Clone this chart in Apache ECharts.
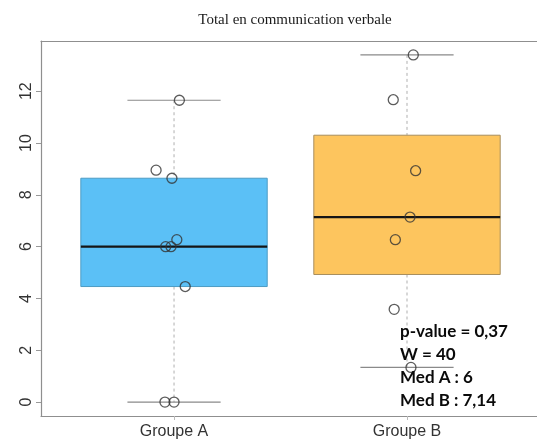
<!DOCTYPE html>
<html>
<head>
<meta charset="utf-8">
<script src="https://cdn.jsdelivr.net/npm/echarts@6/dist/echarts.min.js"></script>
<style>
  html, body { margin: 0; padding: 0; background: #fff; }
  #chart { width: 537px; height: 441px; }
</style>
</head>
<body>
<div id="chart"></div>
<script>
// Groups and their observations
const groups = ['Groupe A', 'Groupe B'];
const valuesA = [0, 0, 4.46, 6, 6, 6.27, 8.64, 8.95, 11.65];
const valuesB = [1.34, 3.58, 6.27, 7.14, 8.93, 11.67, 13.4];
// Horizontal jitter of each point (category units)
const jitterA = [-0.039, 0.0, 0.048, -0.036, -0.013, 0.012, -0.009, -0.077, 0.023];
const jitterB = [0.017, -0.055, -0.050, 0.013, 0.037, -0.059, 0.027];
const yTicks = [0, 2, 4, 6, 8, 10, 12];
const title = 'Total en communication verbale';
const statLines = ['p-value = 0,37', 'W = 40', 'Med A : 6', 'Med B : 7,14'];

const fills = ['#5BC0F6', '#FDC55E'];
const edges = ['#4d9cc4', '#a88e5e'];

// Tukey five-number summary (same hinges as R's boxplot)
function fivenum(v) {
  const x = v.slice().sort((a, b) => a - b);
  const n = x.length;
  const n4 = Math.floor((n + 3) / 2) / 2;
  const d = [1, n4, (n + 1) / 2, n + 1 - n4, n];
  return d.map(k => 0.5 * (x[Math.floor(k) - 1] + x[Math.ceil(k) - 1]));
}

const allValues = [valuesA, valuesB];
const boxData = allValues.map((v, i) => {
  const s = fivenum(v);
  const iqr = s[3] - s[1];
  const lo = Math.min(...v.filter(t => t >= s[1] - 1.5 * iqr));
  const hi = Math.max(...v.filter(t => t <= s[3] + 1.5 * iqr));
  return [i + 1, lo, s[1], s[2], s[3], hi];
});

const pointsA = valuesA.map((y, i) => [1 + jitterA[i], y]);
const pointsB = valuesB.map((y, i) => [2 + jitterB[i], y]);

const allY = valuesA.concat(valuesB);
const yLo = Math.min(...allY), yHi = Math.max(...allY);
const ext = (yHi - yLo) * 0.04;

const frame = '#8f8f8f';
const chart = echarts.init(document.getElementById('chart'), null, { renderer: 'canvas' });

chart.setOption({
  animation: false,
  backgroundColor: '#ffffff',
  grid: { left: 41, top: 41, right: 0, bottom: 25 },
  xAxis: [{
    type: 'value',
    min: 0.429,
    max: 2.558,
    axisLine: { show: true, onZero: false, lineStyle: { color: frame, width: 1.2 } },
    axisTick: { show: true, customValues: [1, 2], length: 4, lineStyle: { color: '#bbb' } },
    axisLabel: {
      customValues: [1, 2],
      formatter: v => groups[Math.round(v) - 1] || '',
      color: '#333', fontFamily: 'Liberation Sans', fontSize: 16, margin: 8
    },
    splitLine: { show: false }
  }, {
    type: 'value', position: 'top',
    min: 0.429, max: 2.558,
    axisLine: { show: true, onZero: false, lineStyle: { color: frame, width: 1.2 } },
    axisTick: { show: false }, axisLabel: { show: false }, splitLine: { show: false }
  }],
  yAxis: {
    type: 'value',
    min: yLo - ext,
    max: yHi + ext,
    axisLine: { show: true, onZero: false, lineStyle: { color: frame, width: 1.2 } },
    axisTick: { show: true, customValues: yTicks, length: 5, lineStyle: { color: '#999' } },
    axisLabel: {
      customValues: yTicks,
      rotate: 90,
      margin: 6,
      color: '#333', fontFamily: 'Liberation Sans', fontSize: 16
    },
    splitLine: { show: false }
  },
  graphic: [{
    type: 'text', x: 295, y: 20,
    style: {
      text: title, align: 'center', verticalAlign: 'middle',
      font: '15px "Liberation Serif"', fill: '#1a1a1a'
    }
  }, {
    type: 'text', x: 400, y: 320.5, z: 100,
    style: {
      text: statLines.join('\n'), align: 'left', verticalAlign: 'top',
      font: 'bold 17px Lato', lineHeight: 23, fill: '#0a0a0a'
    }
  }],
  series: [{
    type: 'custom',
    data: boxData,
    encode: { x: 0, y: [1, 2, 3, 4, 5] },
    z: 2,
    renderItem: function (params, api) {
      const i = params.dataIndex;
      const x = api.value(0);
      const lo = api.value(1), q1 = api.value(2), med = api.value(3), q3 = api.value(4), hi = api.value(5);
      const half = 0.4, capHalf = 0.2;
      const pL = api.coord([x - half, q3]);
      const pR = api.coord([x + half, q1]);
      const c = api.coord([x, med]);
      const cLo = api.coord([x, lo]);
      const cHi = api.coord([x, hi]);
      const cq1 = api.coord([x, q1]);
      const cq3 = api.coord([x, q3]);
      const capL = api.coord([x - capHalf, 0])[0];
      const capR = api.coord([x + capHalf, 0])[0];
      const whisk = { stroke: '#b0b0b0', lineWidth: 1, lineDash: [3, 3] };
      const cap = { stroke: '#8a8a8a', lineWidth: 1.2 };
      return {
        type: 'group',
        children: [
          { type: 'line', shape: { x1: c[0], y1: cHi[1], x2: c[0], y2: cq3[1] }, style: whisk },
          { type: 'line', shape: { x1: c[0], y1: cq1[1], x2: c[0], y2: cLo[1] }, style: whisk },
          { type: 'line', shape: { x1: capL, y1: cHi[1], x2: capR, y2: cHi[1] }, style: cap },
          { type: 'line', shape: { x1: capL, y1: cLo[1], x2: capR, y2: cLo[1] }, style: cap },
          { type: 'rect', shape: { x: pL[0], y: pL[1], width: pR[0] - pL[0], height: pR[1] - pL[1] },
            style: { fill: fills[i], stroke: edges[i], lineWidth: 1 } },
          { type: 'line', shape: { x1: pL[0], y1: c[1], x2: pR[0], y2: c[1] },
            style: { stroke: '#151515', lineWidth: 2.2 } }
        ]
      };
    }
  }, {
    type: 'scatter',
    data: pointsA,
    z: 5,
    symbol: 'circle', symbolSize: 10,
    itemStyle: { color: 'rgba(0,0,0,0)', borderColor: '#333', borderWidth: 1.3 }
  }, {
    type: 'scatter',
    data: pointsB,
    z: 5,
    symbol: 'circle', symbolSize: 10,
    itemStyle: { color: 'rgba(0,0,0,0)', borderColor: '#333', borderWidth: 1.3 }
  }]
});
</script>
</body>
</html>
